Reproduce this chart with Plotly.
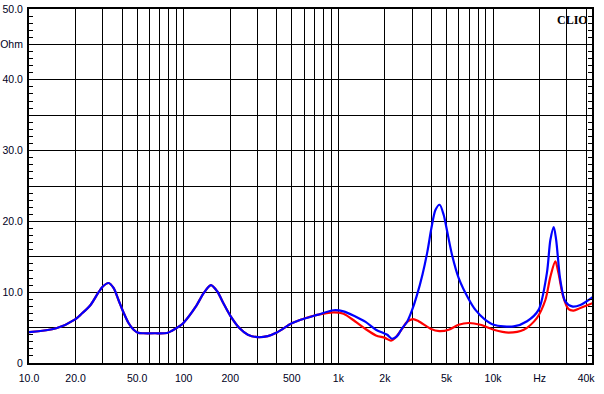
import plotly.graph_objects as go

# Shared low-frequency part (both curves identical)
freq_low = [10, 15, 20, 21.5, 25, 28, 30, 32.7, 35.2, 37.9, 40.9, 44, 47.5, 51, 55, 65, 78, 84, 95, 100,
            120, 135, 150, 165, 180, 200, 230, 260, 300, 350, 400, 500, 570]
imp_low = [4.35, 4.9, 6.2, 6.8, 8.2, 9.9, 10.8, 11.3, 10.6, 8.9, 7.1, 5.65, 4.7, 4.25, 4.2, 4.2, 4.24, 4.56, 5.27, 5.7,
           8.0, 9.9, 11.0, 10.1, 8.5, 6.7, 4.9, 4.0, 3.65, 3.8, 4.3, 5.6, 6.1]

# Blue curve, high-frequency part
freq_blue = [730, 930, 1080, 1280, 1500, 1750, 2000, 2080, 2220, 2390, 2590, 2780, 3000, 3230, 3500, 3770,
             4000, 4250, 4520, 4800, 5000, 5430, 6000, 7000, 7700, 8800, 10100, 13600, 16600, 19700, 22300, 23500,
             24700, 25600, 27200, 29300, 32400, 36700, 44700]
imp_blue = [6.8, 7.45, 7.3, 6.6, 5.8, 4.7, 4.14, 3.95, 3.43, 3.76, 4.94, 5.8, 7.5, 9.65, 12.5, 15.8,
            19.1, 21.65, 22.35, 20.9, 19.1, 15.3, 12.0, 8.94, 7.5, 6.2, 5.4, 5.17, 5.9, 7.5, 12.7, 17.4,
            19.2, 17.4, 11.8, 8.7, 8.0, 8.2, 9.4]

# Red curve, high-frequency part
freq_red = [730, 930, 1080, 1280, 1500, 1750, 2000, 2190, 2330, 2590, 2780, 3040, 3300, 3940, 4500, 5170,
            6000, 6950, 8280, 10100, 12600, 15800, 19200, 21800, 23500, 25300, 26500, 28400, 30800, 33200,
            36700, 44700]
imp_red = [6.8, 7.15, 6.95, 5.9, 4.8, 3.9, 3.55, 3.15, 3.53, 4.85, 5.8, 6.2, 5.9, 4.85, 4.5, 4.7,
           5.4, 5.65, 5.4, 4.7, 4.3, 4.7, 6.35, 8.9, 12.2, 14.35, 12.7, 9.4, 7.6, 7.4,
           7.77, 8.5]

x_ticks = [10, 20, 30, 40, 50, 60, 70, 80, 90,
           100, 200, 300, 400, 500, 600, 700, 800, 900,
           1000, 2000, 3000, 4000, 5000, 6000, 7000, 8000, 9000,
           10000, 20000, 30000, 40000]
x_labels = {10: "10.0", 20: "20.0", 50: "50.0", 100: "100", 200: "200", 500: "500",
            1000: "1k", 2000: "2k", 5000: "5k", 10000: "10k", 20000: "Hz", 40000: "40k"}
y_ticks = [0, 5, 10, 15, 20, 25, 30, 35, 40, 45, 50]
y_labels = {0: "0", 10: "10.0", 20: "20.0", 30: "30.0", 40: "40.0", 45: "Ohm", 50: "50.0"}

fig = go.Figure()
fig.add_trace(go.Scatter(x=freq_low + freq_red, y=imp_low + imp_red, mode="lines",
                         line=dict(color="#ff0000", width=2.2, shape="spline", smoothing=0.8),
                         hoverinfo="skip", showlegend=False))
fig.add_trace(go.Scatter(x=freq_low + freq_blue, y=imp_low + imp_blue, mode="lines",
                         line=dict(color="#0000ff", width=2.2, shape="spline", smoothing=0.8),
                         hoverinfo="skip", showlegend=False))
# helper trace so the tick-only overlay axis is drawn
fig.add_trace(go.Scatter(x=[None], y=[None], yaxis="y2", mode="lines",
                         hoverinfo="skip", showlegend=False))

font = dict(family="Liberation Sans, Arial, sans-serif", size=10.5, color="#000022")

fig.update_layout(
    width=604, height=394,
    margin=dict(l=29, r=12, t=9, b=31),
    paper_bgcolor="white", plot_bgcolor="white",
    font=font,
    xaxis=dict(type="log", range=[1, 4.64], tickvals=x_ticks,
               ticktext=[x_labels.get(v, "") for v in x_ticks],
               showgrid=True, gridcolor="black", gridwidth=1,
               showline=True, linecolor="black", linewidth=2, mirror=True,
               ticks="", zeroline=False, tickfont=font, automargin=False,
               ticklabelstandoff=4),
    yaxis=dict(range=[0, 50], tickvals=y_ticks,
               ticktext=[y_labels.get(v, "") for v in y_ticks],
               showgrid=True, gridcolor="black", gridwidth=1,
               showline=True, linecolor="black", linewidth=2, mirror=True,
               ticks="", zeroline=False, tickfont=font, automargin=False,
               ticklabelstandoff=2),
    yaxis2=dict(range=[0, 50], overlaying="y", side="left", tickmode="linear", tick0=0, dtick=1,
                ticks="inside", ticklen=4, tickwidth=1, tickcolor="black",
                showticklabels=False, showgrid=False, zeroline=False,
                showline=True, linecolor="black", linewidth=2, mirror="ticks", automargin=False),
)

fig.add_annotation(text="<b>CLIO</b>", xref="paper", yref="paper", x=0.997, y=0.995,
                   xanchor="right", yanchor="top", showarrow=False,
                   font=dict(family="Liberation Serif, Times New Roman, serif", size=12, color="black"))

fig.write_html("out.html", config={"displayModeBar": False},
               post_script="document.body.style.margin='0';")
